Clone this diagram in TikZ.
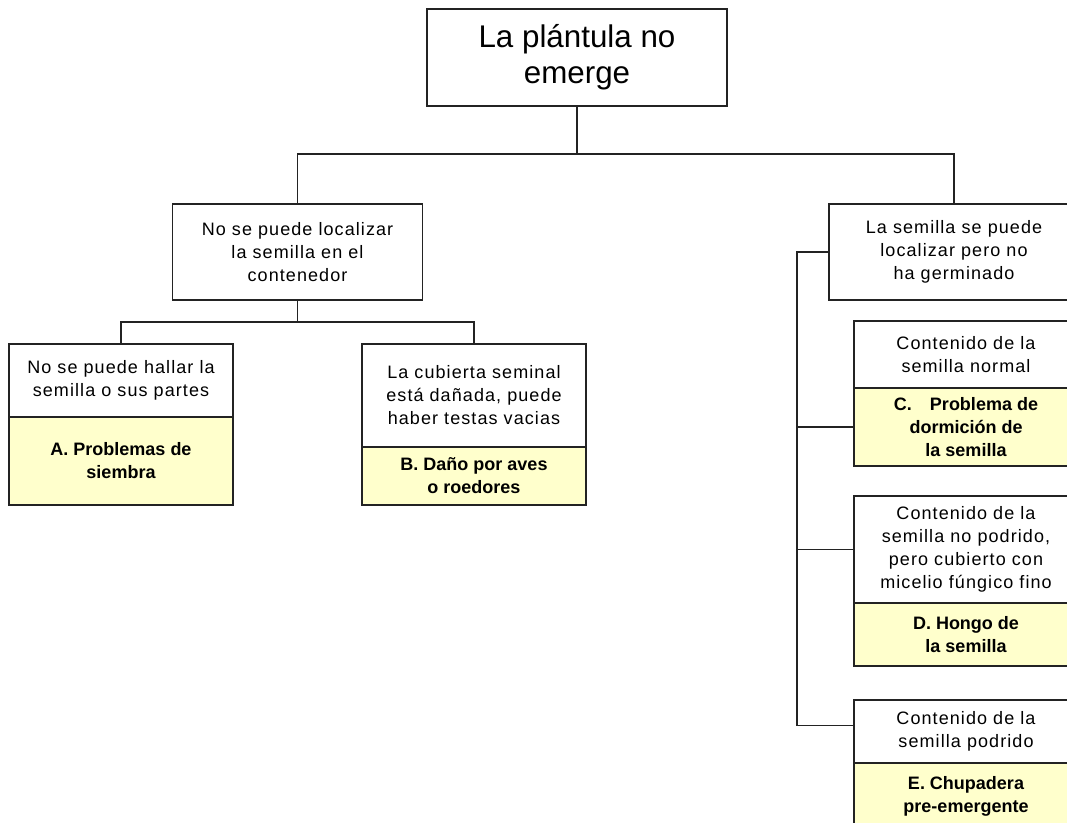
\documentclass[tikz,border=0pt]{standalone}
\usepackage{fontspec}
\setmainfont{Liberation Sans}
\usetikzlibrary{positioning}
\definecolor{paleyellow}{RGB}{255,255,204}
\definecolor{edge}{RGB}{35,35,35}

\begin{document}
\begin{tikzpicture}[x=0.75pt,y=-0.75pt]
		\tikzstyle{Node} = [rectangle, inner sep=0pt, outer sep=0pt, align=center, draw=edge, fill=white, line width=0.9pt, font=\fontsize{13.5}{17.25}\selectfont\addfontfeatures{LetterSpace=6}]
		\tikzstyle{Root} = [Node, minimum width=225pt, minimum height=72.75pt, font=\fontsize{23.5}{27}\selectfont]
		\tikzstyle{Mid} = [Node, minimum width=187.5pt, minimum height=72pt]
		\tikzstyle{Leaf} = [Node, minimum width=168pt]
		\tikzstyle{Cause} = [Leaf, fill=paleyellow, font=\fontsize{13.5}{17.25}\selectfont\bfseries]
		\tikzstyle{line} = [edge, line width=0.8pt]

		\path[use as bounding box, clip] (0,0) rectangle (1067,823);

		\node (root) [Root] at (577,57.5) {La plántula no\\emerge};
		\node (lost) [Mid] at (297.5,252) {No se puede localizar\\la semilla en el\\contenedor};
		\node (found) [Mid] at (954,252) {La semilla se puede\\localizar pero no\\ha germinado};

		\node (Aw) [Leaf, minimum height=54.75pt] at (121,380.5) {No se puede hallar la\\semilla o sus partes};
		\node (Ay) [Cause, minimum height=66pt, below = 0mm of Aw] {A. Problemas de\\siembra};
		\node (Bw) [Leaf, minimum height=77.25pt] at (474,395.5) {La cubierta seminal\\está dañada, puede\\haber testas vacias};
		\node (By) [Cause, minimum height=43.5pt, below = 0mm of Bw] {B. Daño por aves\\o roedores};

		\node (Cw) [Leaf, minimum height=50.25pt] at (966,354.5) {Contenido de la\\semilla normal};
		\node (Cy) [Cause, minimum height=58.5pt, below = 0mm of Cw] {C.\quad Problema de\\dormición de\\la semilla};
		\node (Dw) [Leaf, minimum height=80.25pt] at (966,549.5) {Contenido de la\\semilla no podrido,\\pero cubierto con\\micelio fúngico fino};
		\node (Dy) [Cause, minimum height=47.25pt, below = 0mm of Dw] {D. Hongo de\\la semilla};
		\node (Ew) [Leaf, minimum height=47.25pt] at (966,731.5) {Contenido de la\\semilla podrido};
		\node (Ey) [Cause, minimum height=49.5pt, below = 0mm of Ew] {E. Chupadera\\pre-emergente};

		% buses
		\coordinate (rootbus) at (577,154);
		\coordinate (lostbus) at (297.5,322);
		\coordinate (spine) at (797,0);
		\coordinate (Estub) at ([yshift=4.5pt]Ew.west);

		\draw[line] (root.south) -- (rootbus);
		\draw[line] (lost.north) |- (rootbus) -| (found.north);
		\draw[line] (lost.south) -- (lostbus);
		\draw[line] (Aw.north) |- (lostbus) -| (Bw.north);
		\draw[line] (found.west) -| (spine |- Estub) -- (Estub);
		\draw[line] (Cy.west) -- (Cy.west -| spine);
		\draw[line] (Dw.west) -- (Dw.west -| spine);
\end{tikzpicture}
\end{document}
